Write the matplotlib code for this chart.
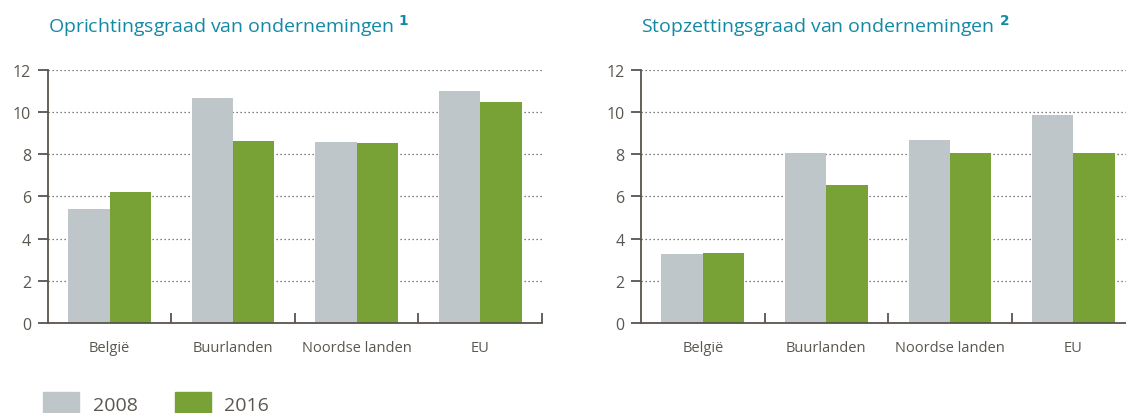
import matplotlib.pyplot as plt
import numpy as np
from matplotlib.patches import Patch

plt.rcParams['font.family'] = ['Open Sans', 'DejaVu Sans']

categories = ['België', 'Buurlanden', 'Noordse landen', 'EU']
years = ['2008', '2016']

# oprichtingsgraad (%)
start_2008 = [5.4, 10.65, 8.6, 11.0]
start_2016 = [6.2, 8.65, 8.55, 10.5]
# stopzettingsgraad (%)
stop_2008 = [3.25, 8.05, 8.7, 9.85]
stop_2016 = [3.3, 6.55, 8.05, 8.05]

titles = ['Oprichtingsgraad van ondernemingen', 'Stopzettingsgraad van ondernemingen']
notes = ['1', '2']

grey = '#bfc6c9'
green = '#78a236'
axis_col = '#5a544d'
text_col = '#5b5650'
title_col = '#1389a6'

fig = plt.figure(figsize=(11.26, 4.14), dpi=100)

ax_w = 0.4389
ax_h = 0.6111
lefts = [0.0424, 0.5693]

x = np.arange(len(categories)) + 0.5
bw = 0.335

for left, title, note, (v08, v16) in zip(lefts, titles, notes,
                                          [(start_2008, start_2016), (stop_2008, stop_2016)]):
    ax = fig.add_axes([left, 0.2174, ax_w, ax_h])
    ax.bar(x - bw / 2, v08, bw, color=grey, zorder=2)
    ax.bar(x + bw / 2, v16, bw, color=green, zorder=2)
    ax.set_xlim(0, 4)
    ax.set_ylim(0, 12)
    ax.set_yticks(range(0, 13, 2))
    ax.set_xticks(x)
    ax.set_xticklabels(categories)
    ax.set_xticks(range(1, 5), minor=True)

    for y in range(2, 13, 2):
        ax.axhline(y, color='#555555', lw=0.9, ls=(0, (1, 2.2)), zorder=1)

    for s in ['top', 'right']:
        ax.spines[s].set_visible(False)
    for s in ['left', 'bottom']:
        ax.spines[s].set_color(axis_col)
        ax.spines[s].set_linewidth(1.3)
    ax.spines['left'].set_zorder(3)

    ax.tick_params(axis='y', direction='out', length=7, width=1.3, color=axis_col,
                   labelcolor=text_col, labelsize=11.5, pad=5)
    ax.tick_params(axis='x', which='major', length=0, labelcolor=text_col,
                   labelsize=10.5, pad=12)
    ax.tick_params(axis='x', which='minor', direction='in', length=7, width=1.3,
                   color=axis_col)

    fig.text(left + 0.0003, 0.92, title + r' $^{\mathbf{' + note + '}}$',
             color=title_col, fontsize=14, va='baseline', ha='left')

handles = [Patch(color=grey, label=years[0]), Patch(color=green, label=years[1])]
fig.legend(handles=handles, loc='center left', bbox_to_anchor=(0.023, 0.022),
           ncol=2, frameon=False, fontsize=14, handlelength=1.85, handleheight=1.5,
           columnspacing=1.9, handletextpad=0.7, labelcolor=text_col)

fig.savefig('out.png', dpi=100)
